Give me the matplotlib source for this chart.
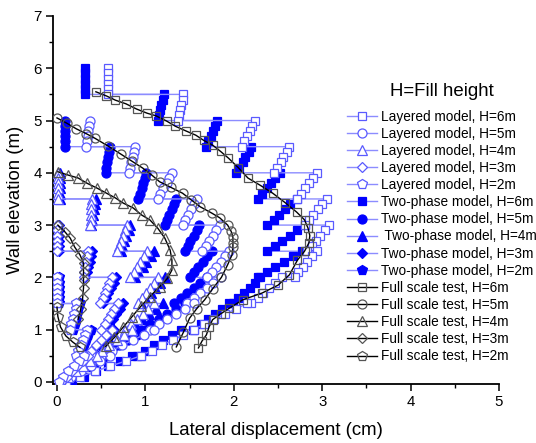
import matplotlib
matplotlib.use('Agg')
import matplotlib.pyplot as plt

plt.rcParams['font.family'] = ['Liberation Sans', 'DejaVu Sans']

# ---------------- data ----------------
elev6 = [6.0, 5.9, 5.8, 5.7, 5.6, 5.5, 5.5, 5.4, 5.3, 5.2, 5.1, 5.0,
         5.0, 4.9, 4.8, 4.7, 4.6, 4.5, 4.5, 4.4, 4.3, 4.2, 4.1, 4.0,
         4.0, 3.9, 3.8, 3.7, 3.6, 3.5, 3.5, 3.4, 3.3, 3.2, 3.1, 3.0,
         3.0, 2.9, 2.8, 2.7, 2.6, 2.5, 2.5, 2.4, 2.3, 2.2, 2.1, 2.0,
         2.0, 1.9, 1.8, 1.7, 1.6, 1.5, 1.5, 1.4, 1.3, 1.2, 1.1, 1.0,
         1.0, 0.9, 0.8, 0.7, 0.6, 0.5, 0.5, 0.4, 0.3, 0.2, 0.1, 0.0]
elev5 = elev6[12:]
elev4 = elev6[24:]
elev3 = elev6[36:]
elev2 = elev6[48:]

lay6 = [0.58, 0.58, 0.58, 0.58, 0.58, 0.58, 1.43, 1.42, 1.40, 1.39, 1.38, 1.37,
        2.24, 2.21, 2.18, 2.15, 2.12, 2.09, 2.63, 2.60, 2.56, 2.53, 2.49, 2.46,
        2.94, 2.90, 2.85, 2.81, 2.76, 2.72, 3.05, 3.00, 2.95, 2.90, 2.85, 2.80,
        3.08, 3.03, 2.98, 2.93, 2.88, 2.83, 2.94, 2.88, 2.83, 2.78, 2.73, 2.69,
        2.55, 2.47, 2.40, 2.33, 2.27, 2.20, 2.15, 2.03, 1.90, 1.78, 1.66, 1.55,
        1.55, 1.43, 1.31, 1.19, 1.07, 0.95, 0.95, 0.78, 0.60, 0.43, 0.26, 0.10]
two6 = [0.32, 0.32, 0.32, 0.32, 0.32, 0.32, 1.21, 1.20, 1.18, 1.17, 1.15, 1.14,
        1.81, 1.79, 1.76, 1.74, 1.71, 1.69, 2.20, 2.17, 2.13, 2.10, 2.06, 2.03,
        2.52, 2.47, 2.42, 2.37, 2.32, 2.27, 2.71, 2.64, 2.58, 2.51, 2.45, 2.38,
        2.81, 2.72, 2.64, 2.55, 2.47, 2.38, 2.77, 2.67, 2.57, 2.47, 2.37, 2.27,
        2.30, 2.24, 2.18, 2.11, 2.05, 1.99, 1.95, 1.87, 1.79, 1.71, 1.63, 1.54,
        1.40, 1.30, 1.20, 1.10, 1.00, 0.90, 0.85, 0.71, 0.58, 0.44, 0.31, 0.17]
lay5 = [0.37, 0.36, 0.35, 0.35, 0.34, 0.33, 0.88, 0.87, 0.86, 0.84, 0.83, 0.82,
        1.30, 1.27, 1.24, 1.20, 1.17, 1.14, 1.58, 1.55, 1.52, 1.48, 1.45, 1.42,
        1.84, 1.80, 1.76, 1.72, 1.68, 1.64, 1.95, 1.90, 1.85, 1.80, 1.75, 1.70,
        1.85, 1.77, 1.70, 1.62, 1.55, 1.47, 1.55, 1.45, 1.35, 1.25, 1.15, 1.05,
        1.10, 0.98, 0.86, 0.74, 0.62, 0.50, 0.60, 0.49, 0.38, 0.27, 0.16, 0.05]
two5 = [0.09, 0.09, 0.09, 0.09, 0.09, 0.09, 0.60, 0.59, 0.58, 0.57, 0.56, 0.55,
        1.01, 0.99, 0.97, 0.96, 0.94, 0.92, 1.35, 1.32, 1.30, 1.27, 1.25, 1.22,
        1.61, 1.58, 1.55, 1.51, 1.48, 1.45, 1.75, 1.70, 1.65, 1.60, 1.55, 1.50,
        1.70, 1.62, 1.55, 1.47, 1.40, 1.32, 1.45, 1.35, 1.25, 1.15, 1.05, 0.95,
        1.00, 0.90, 0.80, 0.70, 0.60, 0.50, 0.55, 0.45, 0.35, 0.25, 0.15, 0.05]
lay4 = [0.01, 0.01, 0.01, 0.01, 0.01, 0.01, 0.40, 0.39, 0.39, 0.38, 0.38, 0.37,
        0.79, 0.77, 0.75, 0.72, 0.70, 0.68, 1.02, 0.98, 0.94, 0.91, 0.87, 0.83,
        1.14, 1.10, 1.05, 1.01, 0.96, 0.92, 1.10, 1.03, 0.97, 0.90, 0.84, 0.77,
        0.85, 0.76, 0.68, 0.59, 0.51, 0.42, 0.45, 0.37, 0.29, 0.21, 0.13, 0.05]
two4 = [0.03, 0.03, 0.03, 0.03, 0.03, 0.03, 0.44, 0.43, 0.42, 0.41, 0.40, 0.39,
        0.83, 0.81, 0.78, 0.76, 0.74, 0.72, 1.10, 1.06, 1.01, 0.97, 0.92, 0.88,
        1.22, 1.17, 1.11, 1.06, 1.00, 0.95, 1.20, 1.12, 1.04, 0.96, 0.88, 0.80,
        0.92, 0.82, 0.72, 0.62, 0.52, 0.42, 0.50, 0.41, 0.32, 0.23, 0.14, 0.05]
lay3 = [0.00, 0.00, 0.00, 0.00, 0.00, 0.00, 0.35, 0.34, 0.33, 0.32, 0.31, 0.30,
        0.62, 0.59, 0.57, 0.54, 0.52, 0.49, 0.69, 0.65, 0.61, 0.58, 0.54, 0.50,
        0.62, 0.56, 0.50, 0.44, 0.38, 0.32, 0.35, 0.29, 0.23, 0.17, 0.11, 0.05]
two3 = [0.02, 0.02, 0.02, 0.02, 0.02, 0.02, 0.40, 0.38, 0.37, 0.35, 0.34, 0.32,
        0.67, 0.64, 0.61, 0.58, 0.55, 0.52, 0.75, 0.71, 0.67, 0.63, 0.59, 0.55,
        0.65, 0.59, 0.53, 0.47, 0.41, 0.35, 0.38, 0.32, 0.26, 0.20, 0.14, 0.08]
lay2 = [0.00, 0.00, 0.00, 0.00, 0.00, 0.00, 0.22, 0.21, 0.19, 0.18, 0.16, 0.15,
        0.34, 0.32, 0.29, 0.27, 0.24, 0.22, 0.30, 0.25, 0.19, 0.13, 0.07, 0.02]
two2 = [0.02, 0.02, 0.02, 0.02, 0.02, 0.02, 0.26, 0.24, 0.23, 0.21, 0.20, 0.18,
        0.38, 0.35, 0.33, 0.30, 0.28, 0.25, 0.33, 0.27, 0.21, 0.15, 0.09, 0.04]

full6_x = [0.44, 0.56, 0.66, 0.78, 0.90, 1.02, 1.12, 1.24, 1.34, 1.46, 1.57, 1.66,
           1.76, 1.85, 1.94, 2.05, 2.16, 2.30, 2.44, 2.58, 2.71, 2.80, 2.84, 2.86,
           2.85, 2.80, 2.72, 2.63, 2.50, 2.32, 2.10, 1.95, 1.85, 1.76, 1.72, 1.69,
           1.64, 1.60]
full6_y = [5.55, 5.47, 5.39, 5.32, 5.22, 5.14, 5.09, 4.99, 4.89, 4.80, 4.72, 4.62,
           4.53, 4.41, 4.28, 4.10, 3.90, 3.76, 3.61, 3.43, 3.25, 3.10, 2.94, 2.80,
           2.66, 2.50, 2.33, 2.05, 1.85, 1.70, 1.57, 1.41, 1.30, 1.19, 1.05, 0.90,
           0.78, 0.65]
full5_x = [0.00, 0.11, 0.22, 0.33, 0.43, 0.58, 0.72, 0.85, 0.97, 1.07, 1.16, 1.29,
           1.42, 1.52, 1.62, 1.75, 1.84, 1.93, 1.97, 1.99, 1.99, 1.99, 1.98, 1.93,
           1.86, 1.76, 1.67, 1.58, 1.50, 1.43, 1.35]
full5_y = [5.05, 4.95, 4.84, 4.75, 4.66, 4.51, 4.36, 4.22, 4.09, 3.96, 3.83, 3.72,
           3.61, 3.48, 3.35, 3.23, 3.14, 3.00, 2.88, 2.77, 2.66, 2.58, 2.43, 2.24,
           2.00, 1.78, 1.57, 1.40, 1.22, 0.95, 0.67]
full4_x = [0.01, 0.12, 0.24, 0.34, 0.45, 0.56, 0.66, 0.75, 0.86, 0.96, 1.05, 1.14,
           1.22, 1.28, 1.30, 1.30, 1.25, 1.16, 1.05, 0.95, 0.85, 0.75, 0.65, 0.55]
full4_y = [4.02, 3.96, 3.90, 3.80, 3.71, 3.61, 3.52, 3.42, 3.33, 3.19, 3.10, 2.94,
           2.75, 2.52, 2.33, 2.14, 1.98, 1.82, 1.63, 1.45, 1.25, 1.05, 0.85, 0.68]
full3_x = [0.01, 0.09, 0.15, 0.20, 0.26, 0.30, 0.30, 0.30, 0.30, 0.29, 0.27, 0.24]
full3_y = [3.00, 2.87, 2.75, 2.58, 2.43, 2.27, 2.10, 1.95, 1.80, 1.60, 1.40, 1.20]
full2_x = [0.00, 0.01, 0.04, 0.10, 0.18, 0.26]
full2_y = [1.43, 1.25, 1.05, 0.88, 0.76, 0.66]

labels_lay = ['Layered model, H=6m', 'Layered model, H=5m', 'Layered model, H=4m',
              'Layered model, H=3m', 'Layered model, H=2m']
labels_two = ['Two-phase model, H=6m', 'Two-phase model, H=5m', ' Two-phase model, H=4m',
              'Two-phase model, H=3m', 'Two-phase model, H=2m']
labels_full = ['Full scale test, H=6m', 'Full scale test, H=5m', 'Full scale test, H=4m',
               'Full scale test, H=3m', 'Full scale test, H=2m']
markers = ['s', 'o', '^', 'D', 'p']

# ---------------- figure ----------------
fig = plt.figure(figsize=(5.36, 4.43), dpi=100)
ax = fig.add_axes([0.0989, 0.1332, 0.8321, 0.8307])

lay_x = [lay6, lay5, lay4, lay3, lay2]
two_x = [two6, two5, two4, two3, two2]
elevs = [elev6, elev5, elev4, elev3, elev2]
full_x = [full6_x, full5_x, full4_x, full3_x, full2_x]
full_y = [full6_y, full5_y, full4_y, full3_y, full2_y]

msz = {'s': 6.2, 'o': 6.5, '^': 6.8, 'D': 5.6, 'p': 7.0}
line_blue = '#8c8cff'
open_blue = '#5a5aff'

for xs, ys, m, lab in zip(lay_x, elevs, markers, labels_lay):
    ax.plot(xs, ys, color=line_blue, lw=1.0, marker=m, ms=msz[m], mfc='white',
            mec=open_blue, mew=0.9, label=lab, zorder=4)
for xs, ys, m, lab in zip(two_x, elevs, markers, labels_two):
    ax.plot(xs, ys, color=line_blue, lw=1.0, marker=m, ms=msz[m], mfc='#0000ff',
            mec='#0000ff', mew=0.9, label=lab, zorder=3)
for xs, ys, m, lab in zip(full_x, full_y, markers, labels_full):
    ax.plot(xs, ys, color='black', lw=1.0, marker=m, ms=msz[m], mfc='none',
            mec='#555555', mew=0.9, label=lab, zorder=5)

ax.set_xlim(-0.045, 5.0)
ax.set_ylim(-0.04, 7.0)
ax.set_xticks([0, 1, 2, 3, 4, 5])
ax.set_yticks([0, 1, 2, 3, 4, 5, 6, 7])
ax.set_xticks([0.5, 1.5, 2.5, 3.5, 4.5], minor=True)
ax.set_yticks([0.5, 1.5, 2.5, 3.5, 4.5, 5.5, 6.5], minor=True)
ax.tick_params(which='major', direction='out', length=5, width=1.1, labelsize=10.8, pad=3)
ax.tick_params(which='minor', direction='out', length=3, width=1.0)
for s in ['top', 'right']:
    ax.spines[s].set_visible(False)
for s in ['left', 'bottom']:
    ax.spines[s].set_linewidth(1.3)

ax.set_xlabel('Lateral displacement (cm)', fontsize=13.4, labelpad=9)
ax.set_ylabel('Wall elevation (m)', fontsize=13.4, labelpad=7)

leg = fig.legend(loc='upper left', bbox_to_anchor=(347 / 536, 1 - 82.5 / 443),
                 frameon=False, fontsize=9.8, title='H=Fill height',
                 title_fontproperties={'size': 13.4}, handlelength=2.2,
                 handletextpad=0.3, labelspacing=0.23, borderpad=0, borderaxespad=0,
                 numpoints=1)
leg._legend_box.sep = 7.2

fig.savefig('out.png', dpi=100)
